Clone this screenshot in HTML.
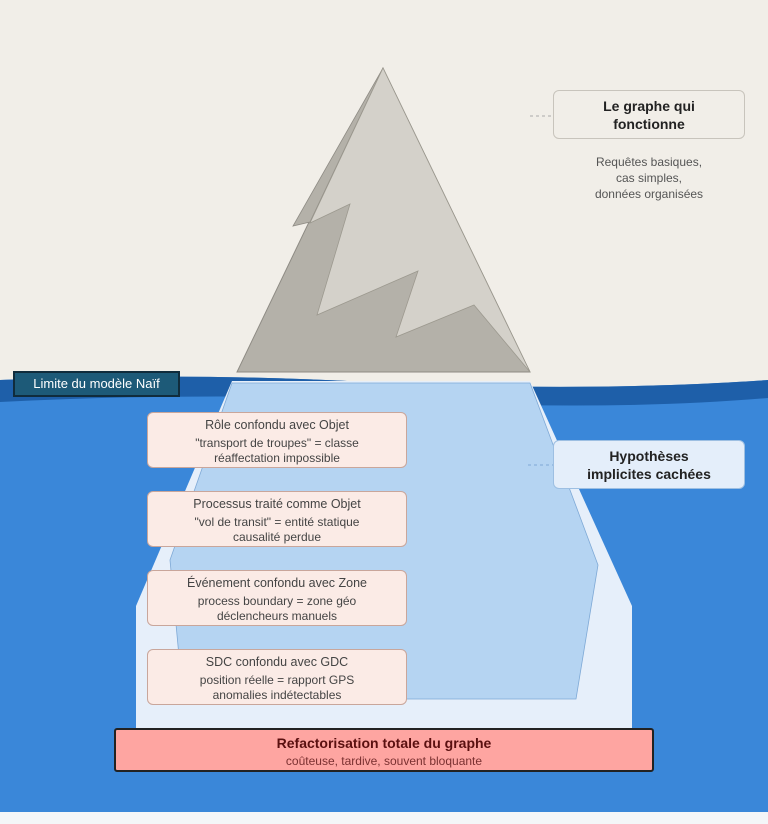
<!DOCTYPE html>
<html><head><meta charset="utf-8"><style>
body{margin:0;width:768px;height:824px;overflow:hidden;background:#f1eee8;font-family:"Liberation Sans",sans-serif}
.t{position:absolute;text-align:center;box-sizing:border-box}
.p{position:absolute;left:147px;width:260px;height:56px;background:#fbebe6;border:1px solid #c9a69b;border-radius:6px;box-sizing:border-box;text-align:center;font-size:12px;color:#444;line-height:15px;padding-top:5px}
.p b{font-weight:normal;font-size:12.5px;display:block;margin-bottom:3px}
</style></head><body>
<svg width="768" height="824" style="position:absolute;left:0;top:0">
<rect x="0" y="812" width="768" height="12" fill="#f4f6f8"/>
<path d="M0 380 Q200 372 384 383 Q600 392 768 380 L768 812 L0 812Z" fill="#3a87d9"/>
<path d="M0 380 Q200 372 384 383 Q600 392 768 380 L768 398 Q600 412 384 400 Q200 392 0 402Z" fill="#1e5fa9"/>
<polygon points="232,381 530,381 632,606 632,728 136,728 136,606" fill="#e6effa"/>
<polygon points="232,383 530,383 598,565 576,699 183,699 170,560" fill="#b5d4f2" stroke="#7ea9d6" stroke-width="0.8"/>
<polygon points="383,68 237,372 530,372" fill="#b4b1a9" stroke="#8e8b84" stroke-width="1"/>
<polygon points="383,68 293,226 310,222" fill="#b4b1a9" stroke="#8e8b84" stroke-width="0.8"/>
<polygon points="383,68 530,372 474,305 396,337 418,271 317,315 350,204 310,223" fill="#d4d1ca" stroke="#9c998f" stroke-width="0.8"/>
<line x1="530" y1="116" x2="553" y2="116" stroke="#aaa" stroke-dasharray="3,3"/>
<line x1="528" y1="465" x2="553" y2="465" stroke="#7ea9d6" stroke-dasharray="3,3"/>
</svg>
<div class="t" style="left:553px;top:90px;width:192px;height:49px;border:1px solid #c8c4bc;border-radius:6px;font-size:14px;font-weight:bold;color:#222;line-height:18px;padding-top:6px">Le graphe qui<br>fonctionne</div>
<div class="t" style="left:553px;top:154px;width:192px;font-size:12px;color:#555;line-height:16px">Requêtes basiques,<br>cas simples,<br>données organisées</div>
<div class="t" style="left:553px;top:440px;width:192px;height:49px;border:1px solid #9dbfe2;background:#e4eefa;border-radius:6px;font-size:14px;font-weight:bold;color:#222;line-height:18px;padding-top:6px">Hypothèses<br>implicites cachées</div>
<div class="t" style="left:13px;top:371px;width:167px;height:26px;background:#1d5a78;border:2px solid #102c3c;color:#fff;font-size:13px;line-height:22px">Limite du modèle Naïf</div>
<div class="p" style="top:412px"><b>Rôle confondu avec Objet</b>"transport de troupes" = classe<br>réaffectation impossible</div>
<div class="p" style="top:491px"><b>Processus traité comme Objet</b>"vol de transit" = entité statique<br>causalité perdue</div>
<div class="p" style="top:570px"><b>Événement confondu avec Zone</b>process boundary = zone géo<br>déclencheurs manuels</div>
<div class="p" style="top:649px"><b>SDC confondu avec GDC</b>position réelle = rapport GPS<br>anomalies indétectables</div>
<div class="t" style="left:114px;top:728px;width:540px;height:44px;background:#fea5a1;border:2px solid #222;border-radius:3px;padding-top:4px;line-height:18px"><div style="font-size:14px;font-weight:bold;color:#5a1010">Refactorisation totale du graphe</div><div style="font-size:12px;color:#7a3030">coûteuse, tardive, souvent bloquante</div></div>
</body></html>
